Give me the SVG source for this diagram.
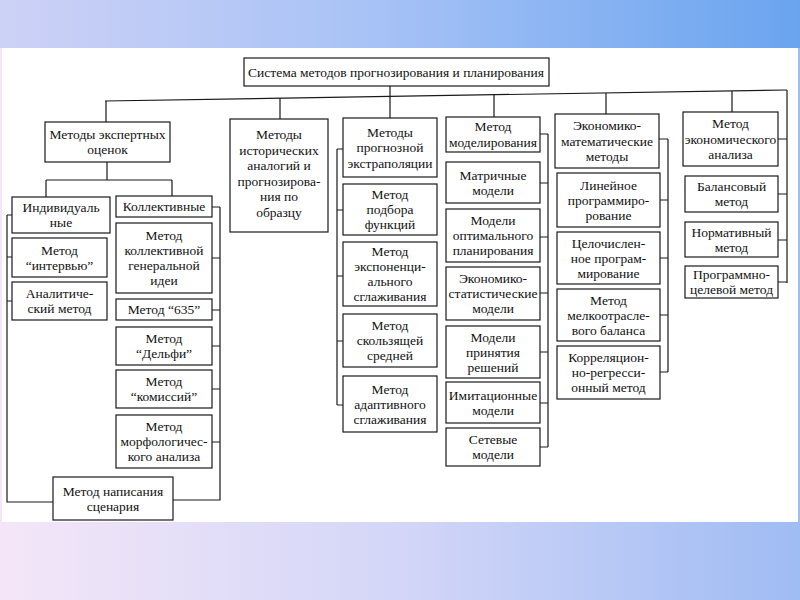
<svg xmlns="http://www.w3.org/2000/svg" width="800" height="600" viewBox="0 0 800 600" font-family="'Liberation Serif', 'Times New Roman', serif">
<defs>
<linearGradient id="gTop" x1="0" y1="0" x2="1" y2="0">
<stop offset="0" stop-color="#cdd1f6"/>
<stop offset="0.45" stop-color="#a9c3f6"/>
<stop offset="1" stop-color="#6aa4ef"/>
</linearGradient>
<linearGradient id="gBot" x1="0" y1="0" x2="1" y2="0">
<stop offset="0" stop-color="#f4e6f8"/>
<stop offset="0.5" stop-color="#d3d6f8"/>
<stop offset="1" stop-color="#9fbcf3"/>
</linearGradient>
<style>
.b{fill:#fff;stroke:#1a1a1a;stroke-width:1.2}
.c{fill:none;stroke:#1a1a1a;stroke-width:1.2}
.t{font-family:'Liberation Serif','Times New Roman',serif;font-size:13.5px;text-anchor:middle;fill:#111}
</style>
</defs>
<rect x="0" y="0" width="800" height="600" fill="url(#gBot)"/>
<rect x="0" y="0" width="800" height="48" fill="url(#gTop)"/>
<rect x="2" y="48" width="796" height="474" fill="#fff"/>

<g id="connectors" class="c">
<path d="M105,101 L787,90"/>
<path d="M390,86 V96.4"/>
<path d="M106,101 V122 M280,98.2 V119 M390,96.4 V118 M494,94.7 V117 M606,92.9 V114 M732,90.9 V112"/>
<path d="M787,90 V283 M778,139 H787 M778,194 H787 M778,240 H787 M778,282 H787"/>
<path d="M107,162 V180 M46,180 H172 M46,180 V197 M172,180 V196"/>
<path d="M7,215 V502 H53 M7,215 H12 M7,257 H12 M7,301 H12"/>
<path d="M220,207 V500 H173 M212,207 H220 M212,258 H220 M212,310 H220 M212,346 H220 M212,389 H220 M212,442 H220"/>
<path d="M337,149 V405 M337,149 H343 M337,210 H343 M337,276 H343 M337,341 H343 M337,405 H343"/>
<path d="M548,134 V447 M540,134 H548 M540,183 H548 M540,237 H548 M540,293 H548 M540,352 H548 M540,403 H548 M540,447 H548"/>
<path d="M668,139 V372 M659,139 H668 M660,200 H668 M660,258 H668 M660,315 H668 M660,372 H668"/>
</g>

<g id="title"><rect class="b" x="244" y="58" width="305" height="28"/><text class="t" x="396" y="76.5" style="font-size:13.5px">Система методов прогнозирования и планирования</text></g>

<g id="n-expert"><rect class="b" x="45" y="122" width="125" height="40"/><text class="t" x="107.5" y="138.75">Методы экспертных</text><text class="t" x="107.5" y="154.25">оценок</text></g>
<g id="n-hist"><rect class="b" x="230" y="119" width="98" height="113"/><text class="t" x="279" y="139">Методы</text><text class="t" x="279" y="154.5">исторических</text><text class="t" x="279" y="170">аналогий и</text><text class="t" x="279" y="185.5">прогнозирова-</text><text class="t" x="279" y="201">ния по</text><text class="t" x="279" y="216.5">образцу</text></g>
<g id="n-extra"><rect class="b" x="343" y="118" width="94" height="59"/><text class="t" x="390" y="136.5">Методы</text><text class="t" x="390" y="152">прогнозной</text><text class="t" x="390" y="167.5">экстраполяции</text></g>
<g id="n-model"><rect class="b" x="446" y="117" width="94" height="35"/><text class="t" x="493" y="131.25">Метод</text><text class="t" x="493" y="146.75">моделирования</text></g>
<g id="n-econmath"><rect class="b" x="555" y="114" width="104" height="54"/><text class="t" x="607" y="130">Экономико-</text><text class="t" x="607" y="145.5">математические</text><text class="t" x="607" y="161">методы</text></g>
<g id="n-econan"><rect class="b" x="683" y="112" width="95" height="54"/><text class="t" x="730.5" y="128">Метод</text><text class="t" x="730.5" y="143.5">экономического</text><text class="t" x="730.5" y="159">анализа</text></g>

<g id="n-indiv"><rect class="b" x="12" y="197" width="98" height="36"/><text class="t" x="61" y="212">Индивидуаль</text><text class="t" x="61" y="227">ные</text></g>
<g id="n-koll"><rect class="b" x="116" y="196" width="96" height="21"/><text class="t" x="164" y="211">Коллективные</text></g>
<g id="n-interv"><rect class="b" x="12" y="238" width="95" height="39"/><text class="t" x="59.5" y="254.5">Метод</text><text class="t" x="59.5" y="269.5">“интервью”</text></g>
<g id="n-analit"><rect class="b" x="12" y="282" width="95" height="38"/><text class="t" x="59.5" y="298">Аналитиче-</text><text class="t" x="59.5" y="313">ский метод</text></g>
<g id="n-genid"><rect class="b" x="116" y="223" width="96" height="70"/><text class="t" x="164" y="240">Метод</text><text class="t" x="164" y="255">коллективной</text><text class="t" x="164" y="270">генеральной</text><text class="t" x="164" y="285">идеи</text></g>
<g id="n-635"><rect class="b" x="116" y="299" width="96" height="21"/><text class="t" x="164" y="314">Метод “635”</text></g>
<g id="n-delphi"><rect class="b" x="116" y="327" width="96" height="38"/><text class="t" x="164" y="343">Метод</text><text class="t" x="164" y="358">“Дельфи”</text></g>
<g id="n-komis"><rect class="b" x="116" y="370" width="96" height="38"/><text class="t" x="164" y="386">Метод</text><text class="t" x="164" y="401">“комиссий”</text></g>
<g id="n-morph"><rect class="b" x="116" y="415" width="96" height="53"/><text class="t" x="164" y="431">Метод</text><text class="t" x="164" y="446">морфологичес-</text><text class="t" x="164" y="461">кого анализа</text></g>
<g id="n-scen"><rect class="b" x="53" y="477" width="120" height="43"/><text class="t" x="113" y="495.5">Метод написания</text><text class="t" x="113" y="510.5">сценария</text></g>

<g id="n-podbor"><rect class="b" x="343" y="184" width="94" height="51"/><text class="t" x="390" y="199">Метод</text><text class="t" x="390" y="214">подбора</text><text class="t" x="390" y="229">функций</text></g>
<g id="n-expon"><rect class="b" x="343" y="242" width="94" height="64"/><text class="t" x="390" y="256">Метод</text><text class="t" x="390" y="271">экспоненци-</text><text class="t" x="390" y="286">ального</text><text class="t" x="390" y="301">сглаживания</text></g>
<g id="n-skolz"><rect class="b" x="343" y="314" width="94" height="53"/><text class="t" x="390" y="330">Метод</text><text class="t" x="390" y="345">скользящей</text><text class="t" x="390" y="360">средней</text></g>
<g id="n-adapt"><rect class="b" x="343" y="376" width="94" height="56"/><text class="t" x="390" y="393.5">Метод</text><text class="t" x="390" y="408.5">адаптивного</text><text class="t" x="390" y="423.5">сглаживания</text></g>

<g id="n-matr"><rect class="b" x="446" y="162" width="94" height="41"/><text class="t" x="493" y="179.5">Матричные</text><text class="t" x="493" y="194.5">модели</text></g>
<g id="n-optim"><rect class="b" x="446" y="209" width="94" height="53"/><text class="t" x="493" y="225">Модели</text><text class="t" x="493" y="240">оптимального</text><text class="t" x="493" y="255">планирования</text></g>
<g id="n-econstat"><rect class="b" x="446" y="267" width="94" height="53"/><text class="t" x="493" y="283">Экономико-</text><text class="t" x="493" y="298">статистические</text><text class="t" x="493" y="313">модели</text></g>
<g id="n-decis"><rect class="b" x="446" y="326" width="94" height="52"/><text class="t" x="493" y="341.5">Модели</text><text class="t" x="493" y="356.5">принятия</text><text class="t" x="493" y="371.5">решений</text></g>
<g id="n-imit"><rect class="b" x="446" y="382" width="94" height="41"/><text class="t" x="493" y="399.5">Имитационные</text><text class="t" x="493" y="414.5">модели</text></g>
<g id="n-set"><rect class="b" x="446" y="428" width="94" height="38"/><text class="t" x="493" y="444">Сетевые</text><text class="t" x="493" y="459">модели</text></g>

<g id="n-lin"><rect class="b" x="557" y="173" width="103" height="54"/><text class="t" x="608.5" y="189.5">Линейное</text><text class="t" x="608.5" y="204.5">программиро-</text><text class="t" x="608.5" y="219.5">рование</text></g>
<g id="n-celo"><rect class="b" x="557" y="232" width="103" height="52"/><text class="t" x="608.5" y="247.5">Целочислен-</text><text class="t" x="608.5" y="262.5">ное програм-</text><text class="t" x="608.5" y="277.5">мирование</text></g>
<g id="n-melko"><rect class="b" x="557" y="289" width="103" height="52"/><text class="t" x="608.5" y="304.5">Метод</text><text class="t" x="608.5" y="319.5">мелкоотрасле-</text><text class="t" x="608.5" y="334.5">вого баланса</text></g>
<g id="n-korr"><rect class="b" x="557" y="346" width="103" height="53"/><text class="t" x="608.5" y="362">Корреляцион-</text><text class="t" x="608.5" y="377">но-регресси-</text><text class="t" x="608.5" y="392">онный метод</text></g>

<g id="n-balans"><rect class="b" x="685" y="176" width="93" height="36"/><text class="t" x="731.5" y="191">Балансовый</text><text class="t" x="731.5" y="206">метод</text></g>
<g id="n-norm"><rect class="b" x="685" y="222" width="93" height="35"/><text class="t" x="731.5" y="236.5">Нормативный</text><text class="t" x="731.5" y="251.5">метод</text></g>
<g id="n-progcel"><rect class="b" x="685" y="266" width="93" height="32"/><text class="t" x="731.5" y="279">Программно-</text><text class="t" x="731.5" y="294">целевой метод</text></g>
</svg>
